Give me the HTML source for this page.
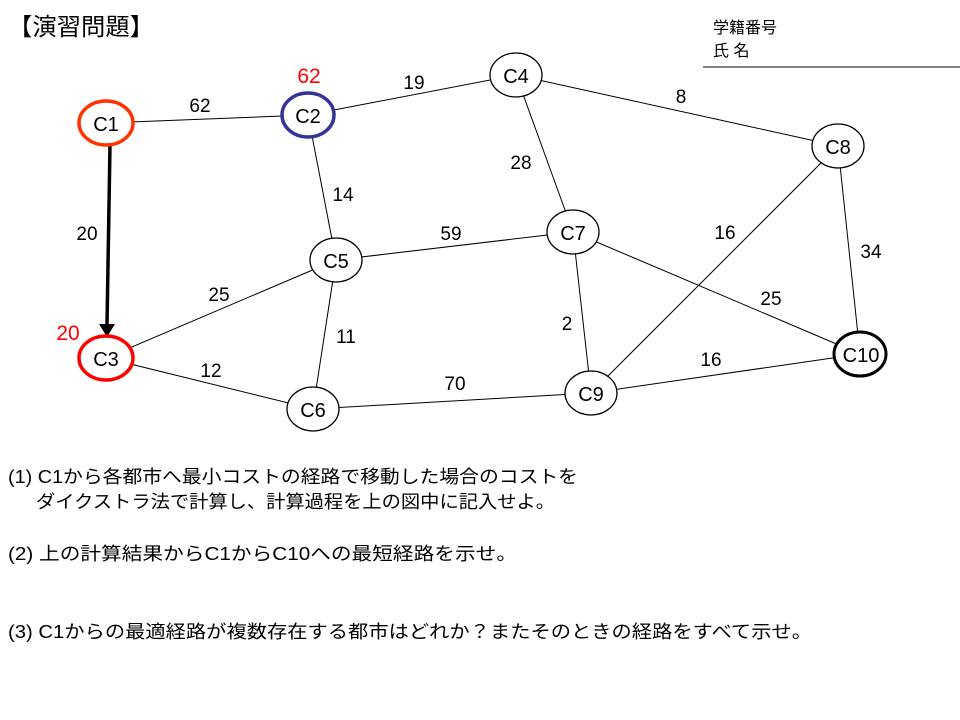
<!DOCTYPE html>
<html><head><meta charset="utf-8"><style>
html,body{margin:0;padding:0;background:#fff;}
svg{display:block;}
text{font-family:"Liberation Sans","Noto Sans CJK JP",sans-serif;}
</style></head><body>
<svg width="960" height="720" viewBox="0 0 960 720" xmlns="http://www.w3.org/2000/svg">
<text x="8" y="35" font-size="24" textLength="146" lengthAdjust="spacingAndGlyphs" fill="#000">【演習問題】</text>
<text x="713" y="33" font-size="16">学籍番号</text>
<text x="713" y="56" font-size="16">氏 名</text>
<line x1="703" y1="67" x2="960" y2="67" stroke="#000" stroke-width="1"/>
<g stroke="#000" stroke-width="1">
<line x1="106" y1="123" x2="308" y2="115"/>
<line x1="308" y1="115" x2="516" y2="75"/>
<line x1="516" y1="75" x2="838" y2="146"/>
<line x1="516" y1="75" x2="573" y2="232"/>
<line x1="308" y1="115" x2="336" y2="260"/>
<line x1="336" y1="260" x2="573" y2="232"/>
<line x1="336" y1="260" x2="106" y2="358"/>
<line x1="336" y1="260" x2="313" y2="409"/>
<line x1="106" y1="358" x2="313" y2="409"/>
<line x1="313" y1="409" x2="591" y2="393"/>
<line x1="573" y1="232" x2="591" y2="393"/>
<line x1="573" y1="232" x2="860" y2="354"/>
<line x1="838" y1="146" x2="591" y2="393"/>
<line x1="838" y1="146" x2="860" y2="354"/>
<line x1="591" y1="393" x2="860" y2="354"/>
</g>
<line x1="110" y1="145" x2="107" y2="325" stroke="#000" stroke-width="3.5"/>
<path d="M99,324 L115,324 L107,337 Z" fill="#000"/>
<g fill="#fff">
<ellipse cx="106" cy="123" rx="27" ry="22" stroke="#ff3300" stroke-width="3.5"/>
<ellipse cx="308" cy="115" rx="26" ry="22" stroke="#333399" stroke-width="3.5"/>
<ellipse cx="516" cy="75" rx="26" ry="22" stroke="#000" stroke-width="1.3"/>
<ellipse cx="838" cy="146" rx="26" ry="22" stroke="#000" stroke-width="1.3"/>
<ellipse cx="336" cy="260" rx="26" ry="22" stroke="#000" stroke-width="1.3"/>
<ellipse cx="573" cy="232" rx="26" ry="22" stroke="#000" stroke-width="1.3"/>
<ellipse cx="106" cy="358" rx="27" ry="22" stroke="#ff0000" stroke-width="3.5"/>
<ellipse cx="313" cy="409" rx="26" ry="22" stroke="#000" stroke-width="1.3"/>
<ellipse cx="591" cy="393" rx="26" ry="22" stroke="#000" stroke-width="1.3"/>
<ellipse cx="860" cy="354" rx="26" ry="22" stroke="#000" stroke-width="3"/>
</g>
<g font-size="20" text-anchor="middle" fill="#000">
<text x="106" y="131">C1</text>
<text x="308" y="123">C2</text>
<text x="516" y="83">C4</text>
<text x="838" y="154">C8</text>
<text x="336" y="268">C5</text>
<text x="573" y="240">C7</text>
<text x="106" y="366">C3</text>
<text x="313" y="417">C6</text>
<text x="591" y="401">C9</text>
<text x="861" y="362">C10</text>
</g>
<g font-size="19" text-anchor="middle" fill="#000">
<text x="200" y="112">62</text>
<text x="414" y="89">19</text>
<text x="681" y="103">8</text>
<text x="521" y="169">28</text>
<text x="343" y="201">14</text>
<text x="451" y="240">59</text>
<text x="87" y="240">20</text>
<text x="219" y="301">25</text>
<text x="346" y="343">11</text>
<text x="211" y="377">12</text>
<text x="455" y="390">70</text>
<text x="567" y="330">2</text>
<text x="725" y="239">16</text>
<text x="771" y="305">25</text>
<text x="871" y="258">34</text>
<text x="711" y="366">16</text>
</g>
<g font-size="21" text-anchor="middle" fill="#ff0000">
<text x="309" y="83">62</text>
<text x="68" y="340">20</text>
</g>
<g font-size="18" fill="#000" lengthAdjust="spacingAndGlyphs">
<text x="8" y="483" textLength="570" lengthAdjust="spacingAndGlyphs">(1) C1から各都市へ最小コストの経路で移動した場合のコストを</text>
<text x="36" y="508" textLength="519" lengthAdjust="spacingAndGlyphs">ダイクストラ法で計算し、計算過程を上の図中に記入せよ。</text>
<text x="8" y="560" textLength="509" lengthAdjust="spacingAndGlyphs">(2) 上の計算結果からC1からC10への最短経路を示せ。</text>
<text x="8" y="638" textLength="804" lengthAdjust="spacingAndGlyphs">(3) C1からの最適経路が複数存在する都市はどれか？またそのときの経路をすべて示せ。</text>
</g>
</svg>
</body></html>
